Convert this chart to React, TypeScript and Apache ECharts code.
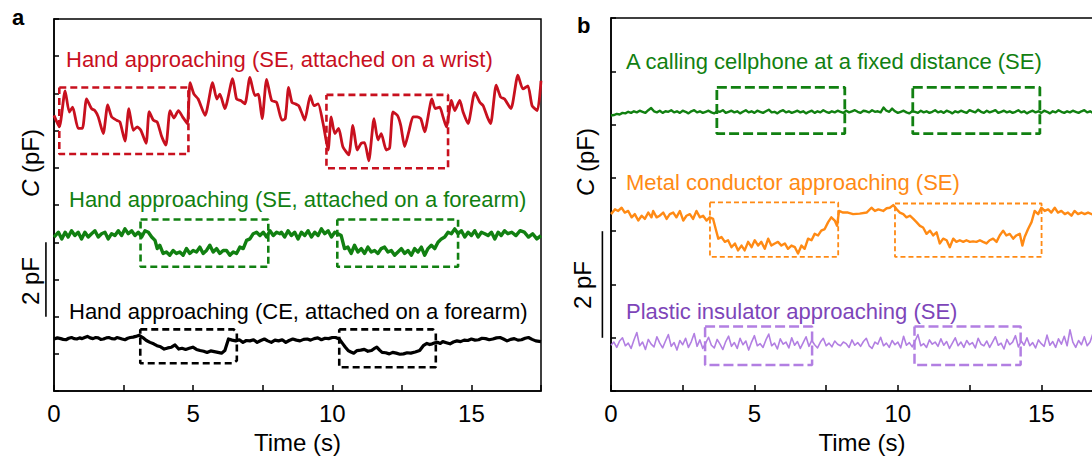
import React, { useEffect, useRef } from "react";
import * as echarts from "echarts";

// ---------- data (time in s, capacitance offset in pF) ----------
const xTickLabels = [0, 5, 10, 15];

// Panel a — red: hand approaching (SE, attached on a wrist)
const redA: [number, number][] = [
  [0, 7.41], [0.19, 7.1], [0.4, 8.07], [0.55, 7.5], [0.67, 7.63], [0.87, 7.06], [1.02, 7.06], [1.17, 7.85],
  [1.35, 7.59], [1.47, 7.54], [1.59, 7.37], [1.77, 6.92], [1.93, 7.69], [2.07, 7.37], [2.25, 7.28], [2.37, 7.23],
  [2.55, 6.72], [2.69, 7.59], [2.85, 7.01], [2.99, 7.1], [3.12, 7.01], [3.31, 6.66], [3.42, 7.51], [3.57, 7.28],
  [3.71, 7.23], [3.87, 6.84], [4.02, 6.61], [4.17, 7.54], [4.31, 7.34], [4.47, 7.54], [4.62, 7.37], [4.79, 7.19],
  [4.89, 8.29], [5.03, 7.98], [5.18, 7.85], [5.43, 7.41], [5.7, 8.29], [5.85, 7.85], [5.96, 7.98], [6.14, 7.59],
  [6.42, 8.4], [6.56, 7.85], [6.71, 7.81], [6.86, 7.72], [7.04, 8.43], [7.22, 7.94], [7.34, 7.98], [7.48, 7.32],
  [7.64, 8.38], [7.82, 7.81], [8.0, 7.76], [8.19, 7.28], [8.31, 7.32], [8.43, 8.16], [8.55, 7.76], [8.67, 7.72],
  [8.79, 7.67], [8.89, 7.5], [9.01, 7.28], [9.21, 7.94], [9.34, 7.67], [9.49, 7.72], [9.67, 7.19], [9.85, 6.48],
  [9.96, 7.37], [10.09, 6.92], [10.23, 7.06], [10.38, 6.57], [10.59, 6.35], [10.74, 7.14], [10.9, 6.48], [11.04, 6.66],
  [11.16, 6.68], [11.31, 6.19], [11.5, 7.32], [11.64, 6.75], [11.76, 6.92], [11.94, 6.48], [12.06, 6.53], [12.18, 7.5],
  [12.34, 7.41], [12.46, 7.14], [12.6, 6.57], [12.75, 6.97], [12.9, 7.37], [13.05, 7.37], [13.18, 7.32], [13.32, 6.97],
  [13.58, 7.85], [13.7, 7.59], [13.86, 7.63], [13.98, 7.37], [14.1, 7.1], [14.28, 7.81], [14.4, 7.54], [14.58, 7.81],
  [14.7, 7.5], [14.88, 7.19], [15.12, 8.03], [15.3, 7.76], [15.42, 7.67], [15.57, 7.37], [15.69, 7.19], [15.89, 8.22],
  [16.05, 7.9], [16.19, 7.85], [16.42, 7.59], [16.67, 8.49], [16.85, 8.12], [17.03, 8.2], [17.18, 7.67], [17.37, 7.54],
  [17.5, 8.34],
];

// Panel a — green: hand approaching (SE, attached on a forearm)
const greenA: [number, number][] = [
  [0, 4.14], [0.16, 4.27], [0.28, 4.09], [0.4, 4.27], [0.51, 4.14], [0.63, 4.31], [0.75, 4.18], [0.87, 4.27],
  [0.99, 4.09], [1.11, 4.27], [1.23, 4.14], [1.35, 4.23], [1.47, 4.31], [1.59, 4.14], [1.71, 4.23], [1.83, 4.27],
  [1.95, 4.09], [2.07, 4.23], [2.19, 4.18], [2.31, 4.31], [2.43, 4.18], [2.55, 4.36], [2.67, 4.23], [2.79, 4.31],
  [2.91, 4.18], [3.03, 4.27], [3.15, 4.14], [3.27, 4.31], [3.39, 4.27], [3.51, 4.14], [3.63, 4.05], [3.71, 3.83],
  [3.8, 3.92], [3.92, 3.7], [4.04, 3.74], [4.16, 3.65], [4.28, 3.78], [4.4, 3.7], [4.52, 3.74], [4.64, 3.65],
  [4.76, 3.83], [4.88, 3.7], [5.0, 3.78], [5.12, 3.74], [5.24, 3.87], [5.36, 3.7], [5.48, 3.78], [5.6, 3.92],
  [5.72, 3.74], [5.84, 3.83], [5.96, 3.7], [6.08, 3.78], [6.2, 3.78], [6.32, 3.65], [6.44, 3.74], [6.56, 3.7],
  [6.68, 3.87], [6.8, 3.83], [6.92, 4.05], [7.04, 4.09], [7.16, 4.23], [7.28, 4.27], [7.4, 4.18], [7.52, 4.27],
  [7.64, 4.14], [7.76, 4.31], [7.88, 4.18], [8.0, 4.27], [8.12, 4.23], [8.17, 4.27], [8.29, 4.14], [8.41, 4.31],
  [8.53, 4.18], [8.65, 4.27], [8.77, 4.09], [8.89, 4.27], [9.01, 4.18], [9.13, 4.31], [9.25, 4.14], [9.37, 4.27],
  [9.49, 4.18], [9.61, 4.36], [9.73, 4.23], [9.85, 4.31], [9.97, 4.14], [10.09, 4.27], [10.2, 4.23], [10.32, 4.18],
  [10.44, 3.83], [10.56, 3.87], [10.68, 3.7], [10.8, 3.92], [10.92, 3.74], [11.04, 3.83], [11.16, 3.7], [11.28, 3.87],
  [11.4, 3.74], [11.52, 3.78], [11.64, 3.7], [11.76, 3.83], [11.88, 3.87], [12.0, 3.74], [12.12, 3.78], [12.24, 3.65],
  [12.36, 3.74], [12.48, 3.83], [12.6, 3.7], [12.72, 3.78], [12.84, 3.65], [12.96, 3.83], [13.08, 3.74], [13.2, 3.87],
  [13.32, 3.65], [13.44, 3.83], [13.56, 3.92], [13.68, 3.83], [13.8, 4.0], [13.92, 4.09], [14.04, 4.14], [14.16, 4.27],
  [14.28, 4.23], [14.4, 4.36], [14.52, 4.23], [14.64, 4.31], [14.76, 4.14], [14.88, 4.27], [15.0, 4.18], [15.12, 4.31],
  [15.24, 4.14], [15.36, 4.27], [15.48, 4.23], [15.6, 4.18], [15.72, 4.27], [15.84, 4.09], [15.96, 4.27], [16.07, 4.18],
  [16.19, 4.31], [16.31, 4.23], [16.45, 4.27], [16.6, 4.18], [16.75, 4.31], [16.9, 4.27], [17.05, 4.14], [17.2, 4.23],
  [17.35, 4.09], [17.5, 4.18],
];

// Panel a — black: hand approaching (CE, attached on a forearm)
const blackA: [number, number][] = [
  [0, 1.4], [0.12, 1.43], [0.24, 1.41], [0.33, 1.39], [0.43, 1.38], [0.53, 1.42], [0.63, 1.44], [0.72, 1.41],
  [0.82, 1.4], [0.92, 1.43], [1.01, 1.41], [1.1, 1.44], [1.2, 1.47], [1.3, 1.43], [1.4, 1.41], [1.5, 1.44],
  [1.59, 1.43], [1.68, 1.39], [1.78, 1.4], [1.88, 1.43], [1.97, 1.44], [2.07, 1.41], [2.17, 1.4], [2.26, 1.44],
  [2.36, 1.42], [2.45, 1.4], [2.55, 1.38], [2.65, 1.42], [2.74, 1.44], [2.84, 1.45], [2.94, 1.47], [3.06, 1.5],
  [3.19, 1.44], [3.32, 1.36], [3.45, 1.31], [3.58, 1.27], [3.7, 1.22], [3.83, 1.19], [3.96, 1.13], [4.09, 1.16],
  [4.22, 1.18], [4.35, 1.24], [4.48, 1.13], [4.6, 1.15], [4.73, 1.12], [4.86, 1.15], [4.99, 1.18], [5.12, 1.12],
  [5.25, 1.09], [5.38, 1.07], [5.5, 1.04], [5.63, 1.08], [5.76, 1.06], [5.89, 1.04], [6.02, 1.02], [6.14, 1.09],
  [6.27, 1.4], [6.4, 1.37], [6.53, 1.35], [6.66, 1.38], [6.79, 1.31], [6.91, 1.36], [7.04, 1.35], [7.17, 1.38],
  [7.3, 1.31], [7.43, 1.36], [7.56, 1.4], [7.68, 1.35], [7.81, 1.31], [7.94, 1.37], [8.07, 1.35], [8.2, 1.38],
  [8.33, 1.31], [8.45, 1.36], [8.58, 1.4], [8.71, 1.37], [8.84, 1.35], [8.97, 1.39], [9.1, 1.4], [9.22, 1.37],
  [9.35, 1.41], [9.48, 1.43], [9.61, 1.38], [9.74, 1.42], [9.87, 1.41], [10.0, 1.44], [10.12, 1.44], [10.25, 1.4],
  [10.38, 1.27], [10.47, 1.18], [10.57, 1.09], [10.67, 1.05], [10.77, 1.02], [10.89, 1.09], [11.02, 1.1], [11.15, 1.12],
  [11.28, 1.07], [11.41, 1.09], [11.5, 1.14], [11.6, 1.18], [11.7, 1.1], [11.79, 1.04], [11.92, 1.03], [12.05, 1.0],
  [12.17, 1.04], [12.3, 1.02], [12.43, 0.99], [12.56, 1.0], [12.69, 1.03], [12.82, 1.02], [12.98, 1.05], [13.14, 1.09],
  [13.27, 1.22], [13.4, 1.28], [13.5, 1.25], [13.59, 1.27], [13.69, 1.3], [13.78, 1.31], [13.88, 1.28], [13.97, 1.33],
  [14.1, 1.3], [14.23, 1.27], [14.35, 1.32], [14.48, 1.35], [14.61, 1.33], [14.74, 1.37], [14.87, 1.36], [15.0, 1.4],
  [15.13, 1.37], [15.26, 1.38], [15.38, 1.42], [15.51, 1.41], [15.64, 1.38], [15.77, 1.4], [15.9, 1.43], [16.03, 1.44],
  [16.15, 1.4], [16.28, 1.35], [16.41, 1.39], [16.54, 1.41], [16.67, 1.37], [16.8, 1.38], [16.93, 1.42], [17.05, 1.44],
  [17.18, 1.39], [17.31, 1.35], [17.5, 1.33],
];

// Panel b — sampled every 0.1 s
const sampleStepB = 0.1;
const greenB = [
  5.17, 5.18, 5.2, 5.19, 5.22, 5.21, 5.24, 5.22, 5.25, 5.23,
  5.26, 5.24, 5.22, 5.27, 5.31, 5.25, 5.23, 5.26, 5.22, 5.25,
  5.24, 5.27, 5.23, 5.25, 5.22, 5.26, 5.24, 5.21, 5.25, 5.27,
  5.23, 5.25, 5.22, 5.24, 5.26, 5.23, 5.21, 5.25, 5.24, 5.27,
  5.22, 5.24, 5.26, 5.23, 5.25, 5.21, 5.24, 5.27, 5.23, 5.25,
  5.22, 5.26, 5.24, 5.22, 5.25, 5.28, 5.23, 5.24, 5.21, 5.25,
  5.27, 5.23, 5.25, 5.22, 5.24, 5.26, 5.23, 5.25, 5.21, 5.24,
  5.26, 5.22, 5.25, 5.23, 5.27, 5.24, 5.22, 5.25, 5.23, 5.26,
  5.24, 5.22, 5.26, 5.23, 5.25, 5.27, 5.24, 5.22, 5.26, 5.25,
  5.23, 5.27, 5.24, 5.25, 5.23, 5.32, 5.26, 5.24, 5.3, 5.25,
  5.22, 5.24, 5.26, 5.23, 5.21, 5.25, 5.24, 5.22, 5.26, 5.23,
  5.25, 5.22, 5.24, 5.27, 5.23, 5.25, 5.22, 5.26, 5.24, 5.21,
  5.25, 5.23, 5.26, 5.24, 5.22, 5.27, 5.25, 5.23, 5.28, 5.24,
  5.22, 5.26, 5.23, 5.25, 5.27, 5.22, 5.24, 5.26, 5.23, 5.25,
  5.22, 5.24, 5.27, 5.23, 5.25, 5.21, 5.24, 5.26, 5.23, 5.25,
  5.22, 5.26, 5.24, 5.21, 5.25, 5.23, 5.27, 5.24, 5.22, 5.25,
  5.23, 5.26, 5.24, 5.22, 5.25, 5.27, 5.23, 5.25, 5.22, 5.24,
  5.26, 5.23, 5.25, 5.24, 5.22, 5.25,
];

const purpleB = [
  0.86, 0.92, 0.82, 0.94, 1.0, 0.85, 0.9, 0.8, 0.96, 1.1,
  0.85, 0.92, 0.78, 0.97, 0.88, 0.83, 1.02, 0.9, 0.81, 0.94,
  1.06, 0.84, 0.91, 0.77, 0.95, 0.87, 0.99, 0.82, 0.93, 1.08,
  0.84, 0.96, 0.8, 0.9, 1.01, 0.86, 0.81, 0.97, 0.88, 0.78,
  0.93, 1.03, 0.84, 0.91, 0.8, 0.99, 0.87, 0.94, 0.77, 0.92,
  1.04, 0.85, 0.89, 0.82, 0.96, 1.07, 0.85, 0.9, 0.79, 0.98,
  0.88, 0.92, 0.81, 1.0, 0.86, 0.93, 0.8, 0.91, 1.02, 0.84,
  0.95, 0.87, 0.81, 0.92, 0.99, 0.85, 0.9, 0.83, 0.94, 0.88,
  0.85, 0.92, 0.89, 0.82, 0.96, 0.86, 0.91, 0.84, 0.93, 0.99,
  0.85, 0.8, 0.92, 0.88, 1.01, 0.85, 0.9, 0.82, 0.95, 0.87,
  0.92, 0.81, 1.03, 0.86, 0.91, 0.83, 0.94, 1.06, 0.85, 0.89,
  0.82, 0.96, 0.88, 0.92, 0.84, 0.98, 0.86, 0.93, 0.8, 0.9,
  1.0, 0.85, 0.92, 0.82, 0.95, 0.87, 0.91, 0.81, 0.99, 0.88,
  0.85, 0.94, 0.82, 0.92, 1.02, 0.86, 0.9, 0.79, 0.97, 0.87,
  0.92, 1.04, 0.83, 0.94, 0.86, 1.0, 0.85, 0.91, 0.81, 0.96,
  0.89, 0.84, 1.05, 0.86, 0.93, 0.82, 0.98, 0.88, 1.03, 0.85,
  1.15, 0.92, 0.82, 0.95, 0.87, 1.02, 0.85, 0.92, 1.08, 0.88,
  0.83, 0.96, 0.9, 1.04, 0.86, 0.98,
];

// Panel b — orange: metal conductor approaching (SE)
const orangeB: [number, number][] = [
  [0, 3.32], [0.14, 3.41], [0.25, 3.38], [0.37, 3.44], [0.48, 3.35], [0.6, 3.38], [0.72, 3.26], [0.83, 3.32],
  [0.95, 3.2], [1.07, 3.29], [1.18, 3.23], [1.3, 3.35], [1.41, 3.26], [1.47, 3.38], [1.59, 3.26], [1.7, 3.29],
  [1.82, 3.35], [1.94, 3.23], [2.05, 3.32], [2.17, 3.35], [2.28, 3.26], [2.4, 3.38], [2.52, 3.2], [2.63, 3.29],
  [2.75, 3.32], [2.86, 3.23], [2.98, 3.38], [3.1, 3.26], [3.21, 3.29], [3.33, 3.2], [3.44, 3.26], [3.56, 3.23],
  [3.65, 3.04], [3.74, 2.86], [3.85, 2.89], [3.97, 2.8], [4.08, 2.83], [4.2, 2.7], [4.32, 2.77], [4.43, 2.64],
  [4.55, 2.73], [4.66, 2.64], [4.78, 2.8], [4.9, 2.7], [5.01, 2.83], [5.13, 2.73], [5.24, 2.8], [5.36, 2.67],
  [5.48, 2.86], [5.59, 2.73], [5.71, 2.77], [5.82, 2.8], [5.94, 2.73], [6.06, 2.77], [6.17, 2.67], [6.29, 2.73],
  [6.41, 2.7], [6.52, 2.58], [6.64, 2.73], [6.75, 2.67], [6.87, 2.86], [6.99, 2.83], [7.1, 2.95], [7.22, 2.92],
  [7.33, 3.01], [7.45, 3.04], [7.57, 3.17], [7.68, 3.26], [7.8, 3.2], [7.88, 3.1], [7.95, 3.38], [8.09, 3.35],
  [8.26, 3.35], [8.44, 3.32], [8.67, 3.33], [8.91, 3.35], [9.08, 3.44], [9.2, 3.38], [9.32, 3.41], [9.49, 3.38],
  [9.61, 3.43], [9.72, 3.44], [9.84, 3.49], [9.96, 3.41], [10.07, 3.35], [10.19, 3.32], [10.3, 3.26], [10.42, 3.29],
  [10.54, 3.23], [10.65, 3.17], [10.77, 3.1], [10.88, 3.07], [11.0, 2.95], [11.12, 3.01], [11.23, 2.92], [11.35, 2.98],
  [11.46, 2.77], [11.58, 2.86], [11.7, 2.83], [11.81, 2.7], [11.93, 2.86], [12.04, 2.8], [12.16, 2.83], [12.28, 2.8],
  [12.39, 2.83], [12.51, 2.8], [12.62, 2.81], [12.74, 2.8], [12.86, 2.83], [12.97, 2.8], [13.09, 2.77], [13.2, 2.83],
  [13.32, 2.86], [13.44, 2.8], [13.55, 2.92], [13.67, 3.01], [13.78, 2.92], [13.9, 2.95], [14.02, 2.86], [14.13, 2.92],
  [14.25, 2.95], [14.34, 2.73], [14.42, 2.89], [14.54, 3.04], [14.66, 3.17], [14.77, 3.38], [14.89, 3.32], [15.0, 3.44],
  [15.12, 3.38], [15.24, 3.41], [15.35, 3.35], [15.47, 3.44], [15.58, 3.35], [15.7, 3.38], [15.82, 3.32], [15.93, 3.35],
  [16.05, 3.29], [16.16, 3.38], [16.28, 3.32], [16.4, 3.35], [16.51, 3.32], [16.63, 3.35], [16.76, 3.32], [16.9, 3.29],
  [17.1, 3.33], [17.3, 3.3], [17.5, 3.31],
];

// Dashed highlight boxes: [tStart, tEnd, vBottom, vTop]
const redBoxes = [[0.19, 4.83, 6.37, 8.16], [9.79, 14.16, 5.99, 7.96]];
const greenBoxesA = [[3.11, 7.7, 3.34, 4.61], [10.18, 14.52, 3.34, 4.61]];
const blackBoxes: [number, number][][] = [
  [[3.1, 1.66], [6.45, 1.66], [6.57, 1.58], [6.57, 0.82], [6.45, 0.75], [3.1, 0.75], [3.1, 1.66]],
  [[10.25, 1.66], [13.62, 1.66], [13.72, 1.58], [13.72, 0.64], [10.25, 0.64], [10.25, 1.66]],
];
const greenBoxesB = [[3.69, 8.15, 4.83, 5.7], [10.52, 14.95, 4.83, 5.7]];
const orangeBoxes = [[3.45, 7.92, 2.52, 3.54], [9.9, 15.01, 2.52, 3.52]];
const purpleBoxes = [[3.28, 7.01, 0.49, 1.21], [10.58, 14.28, 0.49, 1.21]];

// Scale bars (2 pF): [t position, vFrom, vTo]
const scaleBarA = [-0.29, 2, 4];
const scaleBarB = [-0.3, 1, 3];

// ---------- styling ----------
const RED = "#c8101e";
const GREEN = "#118011";
const ORANGE = "#ff8a14";
const PURPLE_LINE = "#b27fe2";
const PURPLE_TEXT = "#7d45b9";
const FONT = "'Liberation Sans', Arial, Helvetica, sans-serif";

function rectPath(b: number[]): [number, number][] {
  const [t0, t1, v0, v1] = b;
  return [[t0, v1], [t1, v1], [t1, v0], [t0, v0], [t0, v1]];
}

function withTime(vals: number[], step: number): [number, number][] {
  return vals.map((v, i) => [Math.round(i * step * 100) / 100, v]);
}

function trace(data: [number, number][], color: string, width: number, g: number, smooth = 0) {
  return {
    type: "line",
    xAxisIndex: g,
    yAxisIndex: g,
    data,
    showSymbol: false,
    symbol: "none",
    smooth,
    lineStyle: { color, width, join: "round" },
    silent: true,
  };
}

function box(data: [number, number][], color: string, width: number, dash: number[], g: number) {
  return {
    type: "line",
    xAxisIndex: g,
    yAxisIndex: g,
    data,
    showSymbol: false,
    symbol: "none",
    lineStyle: { color, width, type: dash },
    silent: true,
  };
}

function label(text: string, x: number, y: number, color: string) {
  return {
    type: "text",
    x,
    y,
    silent: true,
    style: { text, fill: color, fontSize: 22, fontFamily: FONT, align: "left", verticalAlign: "middle" },
  };
}

function vLabel(text: string, x: number, y: number) {
  return {
    type: "text",
    x,
    y,
    rotation: Math.PI / 2,
    silent: true,
    style: {
      text,
      fill: "#000",
      fontSize: 24,
      fontFamily: FONT,
      align: "center",
      verticalAlign: "middle",
      rich: { i: { fontStyle: "italic", fontSize: 24, fontFamily: FONT, fill: "#000" } },
    },
  };
}

function xAxisCfg(g: number) {
  return {
    gridIndex: g,
    type: "value",
    min: 0,
    max: 17.5,
    interval: 2.5,
    axisLine: { lineStyle: { color: "#000", width: 1.5 } },
    axisTick: { inside: true, length: 6, lineStyle: { color: "#000", width: 1.5 } },
    axisLabel: {
      color: "#000",
      fontSize: 24,
      fontFamily: FONT,
      margin: 10,
      formatter: (v: number) => (xTickLabels.includes(v) ? String(v) : ""),
    },
    splitLine: { show: false },
    name: "Time (s)",
    nameLocation: "middle",
    nameGap: 30,
    nameTextStyle: { color: "#000", fontSize: 24, fontFamily: FONT },
  };
}

function yAxisCfg(g: number, max: number) {
  return {
    gridIndex: g,
    type: "value",
    min: 0,
    max,
    interval: 1,
    axisLine: { lineStyle: { color: "#000", width: 1.5 } },
    axisTick: { inside: true, length: 5, lineStyle: { color: "#000", width: 1.5 } },
    axisLabel: { show: false },
    splitLine: { show: false },
  };
}

export default function App() {
  const ref = useRef<HTMLDivElement>(null);

  useEffect(() => {
    document.body.style.margin = "0";
    if (!ref.current) return;
    const chart = echarts.init(ref.current, undefined, { renderer: "svg" });

    const series: any[] = [
      trace(redA, RED, 2.8, 0, 0.2),
      trace(greenA, GREEN, 3.4, 0),
      trace(blackA, "#000", 3.2, 0),
      ...redBoxes.map((b) => box(rectPath(b), RED, 2.6, [7, 4], 0)),
      ...greenBoxesA.map((b) => box(rectPath(b), GREEN, 2.6, [7, 4], 0)),
      ...blackBoxes.map((b) => box(b, "#000", 2.6, [7, 4], 0)),

      trace(withTime(greenB, sampleStepB), GREEN, 2.4, 1),
      trace(orangeB, ORANGE, 2.4, 1),
      trace(withTime(purpleB, sampleStepB), PURPLE_LINE, 1.6, 1),
      ...greenBoxesB.map((b) => box(rectPath(b), GREEN, 2.8, [10, 4], 1)),
      ...orangeBoxes.map((b) => box(rectPath(b), ORANGE, 1.8, [5, 3], 1)),
      ...purpleBoxes.map((b) => box(rectPath(b), PURPLE_LINE, 2.5, [10, 4], 1)),
    ];

    chart.setOption({
      animation: false,
      backgroundColor: "#fff",
      grid: [
        { left: 54, top: 19, width: 487, height: 377, show: true, borderColor: "#000", borderWidth: 1.5, backgroundColor: "transparent" },
        { left: 611, top: 18, width: 502, height: 378, show: true, borderColor: "#000", borderWidth: 1.5, backgroundColor: "transparent" },
      ],
      xAxis: [xAxisCfg(0), xAxisCfg(1)],
      yAxis: [yAxisCfg(0, 10), yAxisCfg(1, 7)],
      series,
    });

    // scale bars positioned through the axes' own scales
    const barLine = (g: number, bar: number[]) => {
      const p0 = chart.convertToPixel({ gridIndex: g }, [bar[0], bar[1]]) as number[];
      const p1 = chart.convertToPixel({ gridIndex: g }, [bar[0], bar[2]]) as number[];
      return {
        type: "line",
        silent: true,
        shape: { x1: p0[0], y1: p0[1], x2: p1[0], y2: p1[1] },
        style: { stroke: "#000", lineWidth: 1.6 },
      };
    };

    chart.setOption({
      graphic: [
        { type: "text", x: 12, y: 17, silent: true, style: { text: "a", fill: "#000", fontSize: 22, fontWeight: "bold", fontFamily: FONT, align: "left", verticalAlign: "middle" } },
        { type: "text", x: 577, y: 25, silent: true, style: { text: "b", fill: "#000", fontSize: 22, fontWeight: "bold", fontFamily: FONT, align: "left", verticalAlign: "middle" } },
        label("Hand approaching (SE, attached on a wrist)", 66, 59, RED),
        label("Hand approaching (SE, attached on a forearm)", 69, 199, GREEN),
        label("Hand approaching (CE, attached on a forearm)", 69, 311, "#000"),
        label("A calling cellphone at a fixed distance (SE)", 626, 61, GREEN),
        label("Metal conductor approaching (SE)", 626, 182, ORANGE),
        label("Plastic insulator approaching (SE)", 626, 311, PURPLE_TEXT),
        vLabel("{i|C} (pF)", 30, 163),
        vLabel("2 pF", 30, 281),
        vLabel("{i|C} (pF)", 585, 162),
        vLabel("2 pF", 582, 285),
        barLine(0, scaleBarA),
        barLine(1, scaleBarB),
      ],
    });

    return () => chart.dispose();
  }, []);

  return (
    <div style={{ width: 1092, height: 459, overflow: "hidden", position: "relative", background: "#fff" }}>
      <div ref={ref} style={{ width: 1130, height: 459 }} />
    </div>
  );
}
